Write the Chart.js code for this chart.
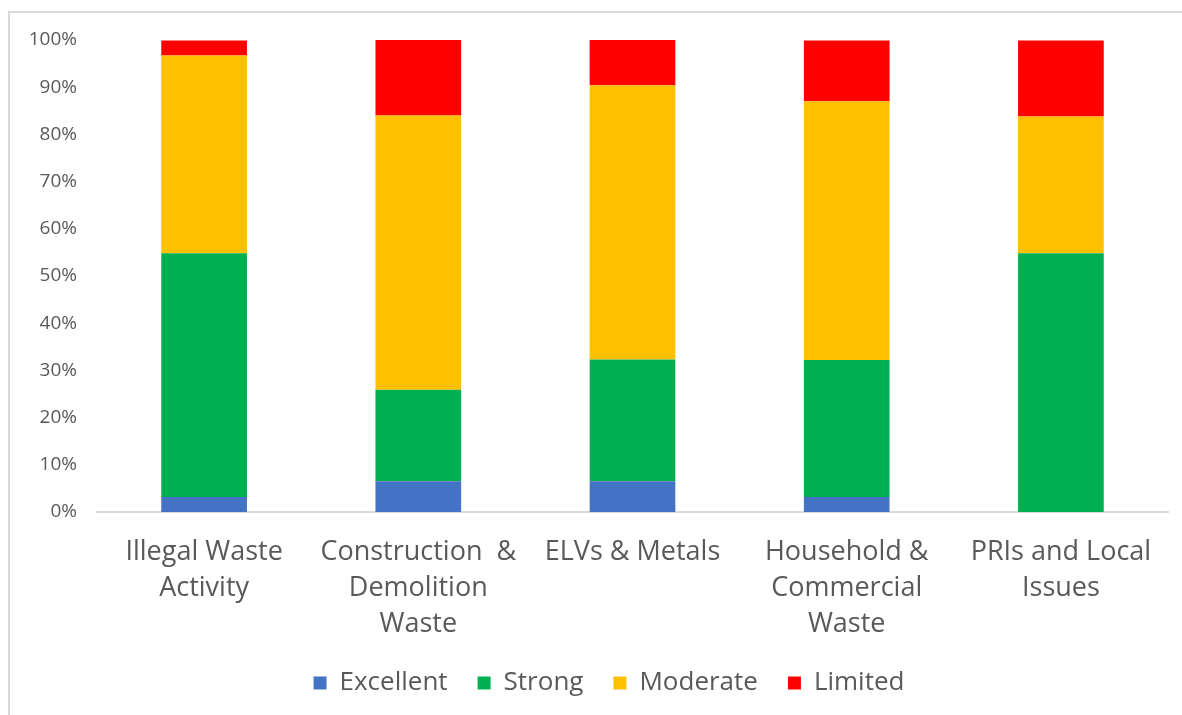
<!DOCTYPE html>
<html>
<head>
<meta charset="utf-8">
<script src="https://cdn.jsdelivr.net/npm/chart.js@4/dist/chart.umd.min.js"></script>
<style>
    body { margin: 0; background: #fff; }
    #frame {
        position: absolute; left: 8px; top: 11px; width: 1200px; height: 720px;
        border: 2px solid #d9d9d9;
    }
    #wrap { position: absolute; left: 0; top: 0; width: 1182px; height: 715px; }
</style>
</head>
<body>
<div id="frame"></div>
<div id="wrap"><canvas id="wasteChart" width="1182" height="715"></canvas></div>
<script>
// categories and series (percent of responses)
const categories = [
    ["Illegal Waste", "Activity"],
    ["Construction  &", "Demolition", "Waste"],
    ["ELVs & Metals"],
    ["Household &", "Commercial", "Waste"],
    ["PRIs and Local", "Issues"]
];
const excellent = [3.2, 6.5, 6.5, 3.2, 0];
const strong = [51.6, 19.4, 25.8, 29.0, 54.8];
const moderate = [41.9, 58.1, 58.1, 54.8, 29.0];
const limited = [3.2, 16.1, 9.7, 12.9, 16.1];

const textColor = "#595959";
const ctx = document.getElementById("wasteChart").getContext("2d");

// excel centres the legend a bit right of the canvas middle
const legendShift = {
    id: "legendShift",
    afterLayout(chart) {
        chart.legend.left += 25;
        chart.legend.right += 25;
    }
};

const wasteChart = new Chart(ctx, {
    type: "bar",
    data: {
        labels: categories,
        datasets: [
            { label: "Excellent", data: excellent, backgroundColor: "#4472C4" },
            { label: "Strong", data: strong, backgroundColor: "#00B050" },
            { label: "Moderate", data: moderate, backgroundColor: "#FFC000" },
            { label: "Limited", data: limited, backgroundColor: "#FF0000" }
        ]
    },
    options: {
        responsive: false,
        animation: false,
        datasets: { bar: { categoryPercentage: 1, barPercentage: 0.4, borderWidth: 0 } },
        layout: { padding: { top: 40, right: 14, left: 0, bottom: 9 } },
        plugins: {
            tooltip: { enabled: false },
            legend: {
                position: "bottom",
                labels: {
                    color: textColor,
                    boxWidth: 13,
                    boxHeight: 13,
                    padding: 30,
                    font: { family: "Open Sans", size: 26 }
                }
            }
        },
        scales: {
            x: {
                stacked: true,
                grid: { display: false },
                border: { color: "#d9d9d9", width: 2 },
                ticks: {
                    color: textColor,
                    padding: 14,
                    maxRotation: 0,
                    autoSkip: false,
                    font: { family: "Open Sans", size: 27, lineHeight: "36px" }
                },
                afterFit: function (axis) { axis.height = 128; }
            },
            y: {
                stacked: true,
                min: 0,
                max: 100,
                grid: { display: false },
                border: { display: false },
                ticks: {
                    stepSize: 10,
                    color: textColor,
                    padding: 12,
                    font: { family: "Open Sans", size: 19 },
                    callback: function (v) { return v + "%"; }
                },
                afterFit: function (axis) { axis.width = 97; }
            }
        }
    },
    plugins: [legendShift]
});
</script>
</body>
</html>
